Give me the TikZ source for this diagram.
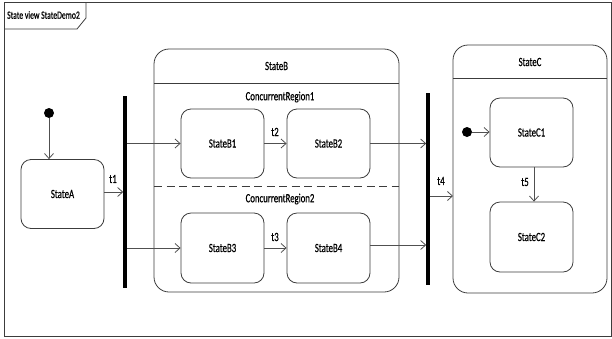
\documentclass[tikz,border=0pt]{standalone}
\usepackage{fontspec}
\setmainfont{Carlito}
\newfontfamily\lbl{Carlito}[FakeStretch=0.7,FakeBold=0.6]
\usetikzlibrary{arrows.meta}
\definecolor{linec}{HTML}{3C3C3C}
\definecolor{arrc}{HTML}{505050}
\tikzset{
  stbox/.style={draw=linec, line width=0.8pt, rounded corners=10pt, minimum width=83pt, minimum height=69pt, font=\lbl\fontsize{12.5}{13}\selectfont, inner sep=0pt},
  bar/.style={fill=black, draw=none, minimum width=3.2pt, inner sep=0pt},
  dot/.style={circle, fill=black, minimum size=10pt, inner sep=0pt},
  trans/.style={draw=arrc, line width=0.8pt, -{Straight Barb[length=5pt,width=9pt,line width=0.8pt]}},
  lab/.style={font=\lbl\fontsize{12.5}{13}\selectfont, inner sep=0pt},
  comp/.style={draw=linec, line width=0.8pt, rounded corners=15pt},
}
\begin{document}
\begin{tikzpicture}[x=1pt,y=-1pt]
\useasboundingbox (0,0) rectangle (612,338);
% frame
\draw[linec, line width=0.8pt] (4,2) rectangle (611,336);
\draw[linec, line width=0.8pt] (4,29) -- (77,29) -- (86,18) -- (86,2);
\node[lab, anchor=west, font=\lbl\fontsize{11}{12}\selectfont] (title) at (7,15) {State view StateDemo2};

% composite StateB
\draw[comp] (154,292) rectangle (399,49);
\draw[linec, line width=0.8pt] (154,83) -- (399,83);
\node[lab] (sB) at (276.5,66) {StateB};
\node[lab] (r1) at (280,97) {ConcurrentRegion1};
\draw[linec, line width=0.8pt, dash pattern=on 8pt off 4.5pt] (154,186) -- (399,186);
\node[lab] (r2) at (280,199) {ConcurrentRegion2};

% composite StateC
\draw[comp] (453,293) rectangle (607,45);
\draw[linec, line width=0.8pt] (453,78) -- (607,78);
\node[lab] (sC) at (530,62) {StateC};
\coordinate (c4) at (453,196);

% states
\node[stbox] (A) at (62.5,194) {StateA};
\node[stbox] (B1) at (222.5,143.5) {StateB1};
\node[stbox] (B2) at (328.5,143.5) {StateB2};
\node[stbox, minimum height=70pt] (B3) at (222.5,248) {StateB3};
\node[stbox, minimum height=70pt] (B4) at (328.5,248) {StateB4};
\node[stbox] (C1) at (531.5,132.5) {StateC1};
\node[stbox, minimum height=70pt] (C2) at (531.5,237) {StateC2};

% pseudostates
\node[dot] (i0) at (49,113) {};
\node[dot] (ic) at (467,132) {};
\node[bar, minimum height=192pt] (f1) at (125,192) {};
\node[bar, minimum height=192pt] (f2) at (428,189) {};

% transitions
\draw[trans] (i0) -- (i0 |- A.north);
\draw[trans] (A.east |- 0,192) -- (f1.west |- 0,192);
\node[lab] (t1) at (113,179) {t1};
\draw[trans] (f1.east |- B1) -- (B1.west);
\draw[trans] (f1.east |- B3) -- (B3.west);
\draw[trans] (B1) -- (B2);
\node[lab] (t2) at (275,132) {t2};
\draw[trans] (B3) -- (B4);
\node[lab] (t3) at (275,237) {t3};
\draw[trans] (B2.east) -- (B2.east -| f2.west);
\draw[trans] (B4.east |- 0,245) -- (f2.west |- 0,245);
\draw[trans] (f2.east |- c4) -- (c4);
\node[lab] (t4) at (441,181) {t4};
\draw[trans] (ic) -- (C1.west |- ic);
\draw[trans] (C1.south -| 534,0) -- (C2.north -| 534,0);
\node[lab] (t5) at (525,182) {t5};
\end{tikzpicture}
\end{document}
